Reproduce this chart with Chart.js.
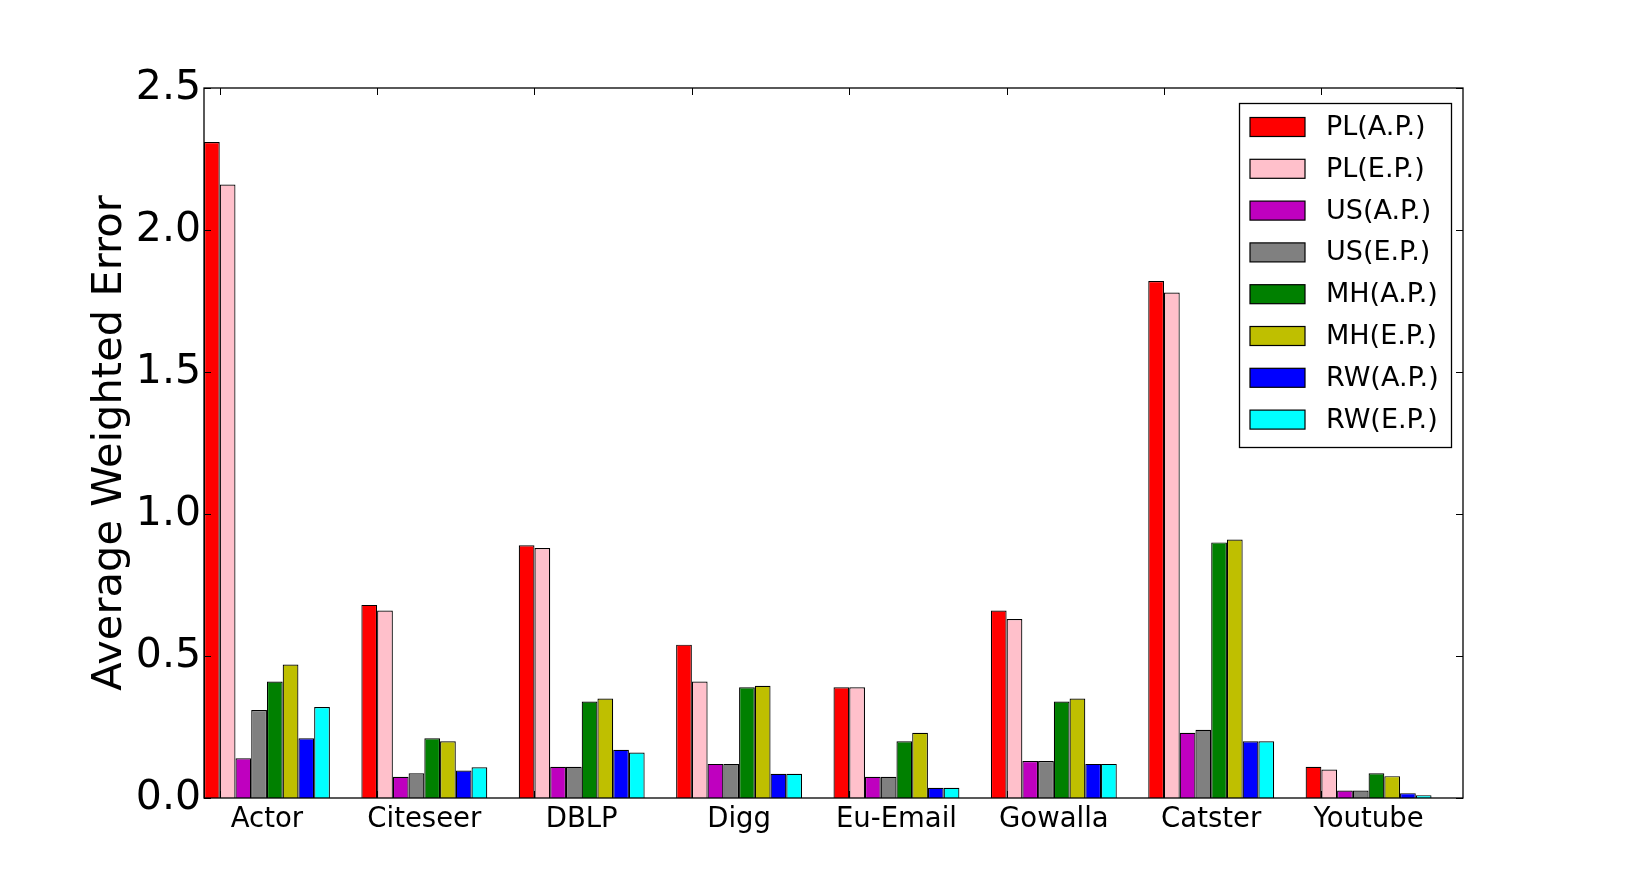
<!DOCTYPE html>
<html>
<head>
<meta charset="utf-8">
<script src="https://cdn.jsdelivr.net/npm/chart.js@4/dist/chart.umd.min.js"></script>
<style>
  html, body { margin: 0; padding: 0; background: #ffffff; }
  canvas { display: block; }
</style>
</head>
<body>
<canvas id="c" width="1626" height="887"></canvas>
<script>
// ---- data ----
const categories = ["Actor", "Citeseer", "DBLP", "Digg", "Eu-Email", "Gowalla", "Catster", "Youtube"];
const seriesNames = ["PL(A.P.)", "PL(E.P.)", "US(A.P.)", "US(E.P.)", "MH(A.P.)", "MH(E.P.)", "RW(A.P.)", "RW(E.P.)"];
const plAP = [2.31, 0.68, 0.89, 0.54, 0.39, 0.66, 1.82, 0.11];
const plEP = [2.16, 0.66, 0.88, 0.41, 0.39, 0.63, 1.78, 0.10];
const usAP = [0.14, 0.075, 0.11, 0.12, 0.075, 0.13, 0.23, 0.026];
const usEP = [0.31, 0.087, 0.11, 0.12, 0.075, 0.13, 0.24, 0.026];
const mhAP = [0.41, 0.21, 0.34, 0.39, 0.20, 0.34, 0.90, 0.087];
const mhEP = [0.47, 0.20, 0.35, 0.395, 0.23, 0.35, 0.91, 0.077];
const rwAP = [0.21, 0.097, 0.17, 0.085, 0.036, 0.12, 0.20, 0.017];
const rwEP = [0.32, 0.108, 0.16, 0.085, 0.036, 0.12, 0.20, 0.010];
const yTickValues = [0, 0.5, 1.0, 1.5, 2.0, 2.5];
const yTitle = "Average Weighted Error";

// ---- styles ----
const seriesValues = [plAP, plEP, usAP, usEP, mhAP, mhEP, rwAP, rwEP];
const colors = ["#ff0000", "#ffc0cb", "#bf00bf", "#808080", "#008000", "#bfbf00", "#0000ff", "#00ffff"];
const FONT = "'DejaVu Sans', 'Bitstream Vera Sans', sans-serif";

const datasets = seriesNames.map((name, k) => ({
  label: name,
  data: seriesValues[k].map((v, i) => ({ x: i + 0.4, y: v })),
  backgroundColor: colors[k],
  borderColor: "#000000",
  borderWidth: 1.2,
  categoryPercentage: 0.8,
  barPercentage: 1.0
}));

// frame, inward ticks and boxed legend
const framePlugin = {
  id: "framePlugin",
  afterDraw(chart) {
    const ctx = chart.ctx;
    const a = chart.chartArea;
    const xs = chart.scales.x, ys = chart.scales.y;
    ctx.save();
    ctx.strokeStyle = "#000";
    ctx.lineWidth = 1.3;
    ctx.strokeRect(a.left, a.top, a.right - a.left, a.bottom - a.top);
    ctx.lineWidth = 1;
    const tl = 7;
    yTickValues.forEach(v => {
      const py = Math.round(ys.getPixelForValue(v)) + 0.5;
      ctx.beginPath();
      ctx.moveTo(a.left, py); ctx.lineTo(a.left + tl, py);
      ctx.moveTo(a.right, py); ctx.lineTo(a.right - tl, py);
      ctx.stroke();
    });
    categories.forEach((c, i) => {
      const px = Math.round(xs.getPixelForValue(i + 0.1)) + 0.5;
      ctx.beginPath();
      ctx.moveTo(px, a.top); ctx.lineTo(px, a.top + tl);
      ctx.moveTo(px, a.bottom); ctx.lineTo(px, a.bottom - tl);
      ctx.stroke();
    });
    // legend
    const bw = 212, bh = 344;
    const bx = a.right - 224, by = a.top + 15;
    ctx.fillStyle = "#fff";
    ctx.fillRect(bx, by, bw, bh);
    ctx.lineWidth = 1.3;
    ctx.strokeRect(bx + 0.5, by + 0.5, bw, bh);
    ctx.font = "27px " + FONT;
    ctx.textBaseline = "middle";
    ctx.textAlign = "left";
    chart.data.datasets.forEach((ds, k) => {
      const cy = by + 24 + k * 41.8;
      ctx.fillStyle = ds.backgroundColor;
      ctx.fillRect(bx + 11, cy - 9.5, 55, 19);
      ctx.lineWidth = 1.2;
      ctx.strokeStyle = "#000";
      ctx.strokeRect(bx + 11, cy - 9.5, 55, 19);
      ctx.fillStyle = "#000";
      ctx.fillText(ds.label, bx + 87, cy + 1);
    });
    ctx.restore();
  }
};

new Chart(document.getElementById("c"), {
  type: "bar",
  data: { datasets },
  options: {
    responsive: false,
    animation: false,
    layout: { padding: { left: 0, right: 163, top: 88, bottom: 0 } },
    plugins: { legend: { display: false }, tooltip: { enabled: false } },
    scales: {
      x: {
        type: "linear",
        min: 0, max: categories.length,
        offset: false,
        grid: { display: false, drawTicks: false },
        border: { display: false },
        afterBuildTicks: (s) => { s.ticks = categories.map((c, i) => ({ value: i + 0.4 })); },
        afterFit: (s) => { s.height = 89; },
        ticks: {
          autoSkip: false,
          maxRotation: 0,
          padding: 5,
          color: "#000",
          font: { family: FONT, size: 27.5 },
          callback: (v, i) => categories[i]
        }
      },
      y: {
        min: 0, max: 2.5,
        grid: { display: false, drawTicks: false },
        border: { display: false },
        afterBuildTicks: (s) => { s.ticks = yTickValues.map(v => ({ value: v })); },
        afterFit: (s) => { s.width = 204; },
        ticks: {
          padding: 3,
          color: "#000",
          font: { family: FONT, size: 41 },
          callback: (v) => Number(v).toFixed(1)
        },
        title: {
          display: true,
          text: yTitle,
          color: "#000",
          font: { family: FONT, size: 41.6, weight: "normal" },
          padding: { top: 85, bottom: 0 }
        }
      }
    }
  },
  plugins: [framePlugin]
});
</script>
</body>
</html>
